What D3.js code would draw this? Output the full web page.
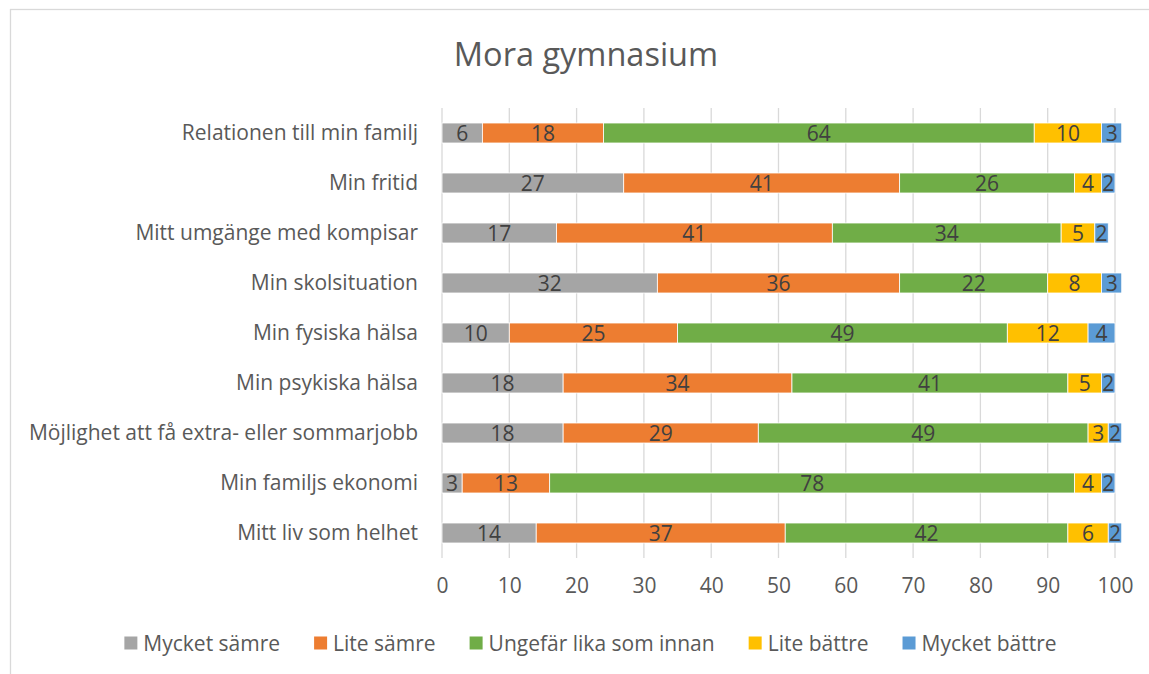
<!DOCTYPE html>
<html><head><meta charset="utf-8">
<script src="https://cdn.jsdelivr.net/npm/d3@7"></script>
<style>body{margin:0;background:#fff}svg{display:block}</style>
</head><body><svg id="c" width="1149" height="674"></svg>
<script>
const categories = ["Relationen till min familj","Min fritid","Mitt umgänge med kompisar","Min skolsituation","Min fysiska hälsa","Min psykiska hälsa","Möjlighet att få extra- eller sommarjobb","Min familjs ekonomi","Mitt liv som helhet"];
const seriesNames = ["Mycket sämre","Lite sämre","Ungefär lika som innan","Lite bättre","Mycket bättre"];
const muckSamre  = [6,27,17,32,10,18,18,3,14];
const liteSamre  = [18,41,41,36,25,34,29,13,37];
const likaInnan  = [64,26,34,22,49,41,49,78,42];
const liteBattre = [10,4,5,8,12,5,3,4,6];
const muckBattre = [3,2,2,3,4,2,2,2,2];
const xTicks = [0,10,20,30,40,50,60,70,80,90,100];
const colors = ["#A5A5A5","#ED7D31","#70AD47","#FFC000","#5B9BD5"];
const title = "Mora gymnasium";

const seriesVals = [muckSamre, liteSamre, likaInnan, liteBattre, muckBattre];
const rows = categories.map((c,i)=>{const o={cat:c}; seriesNames.forEach((s,j)=>o[s]=seriesVals[j][i]); return o;});
const stack = d3.stack().keys(seriesNames)(rows);

const FONT = "'Open Sans', sans-serif";
const FS = 21;
const svg = d3.select("#c");
svg.append("rect").attr("x",10.5).attr("y",9.5).attr("width",1200).attr("height",700)
  .attr("fill","#fff").attr("stroke","#D9D9D9").attr("stroke-width",1.3);

const x = d3.scaleLinear().domain([0,100]).range([442,1115]);
const y = d3.scaleBand().domain(categories).range([108,558]).paddingInner(0.6).paddingOuter(0.3);

svg.append("g").selectAll("line").data(xTicks).join("line")
  .attr("x1",d=>x(d)).attr("x2",d=>x(d)).attr("y1",108).attr("y2",558)
  .attr("stroke","#D9D9D9").attr("stroke-width",1.3);

const xa = svg.append("g").attr("transform","translate(0,558)")
  .call(d3.axisBottom(x).tickValues(xTicks).tickSize(0).tickPadding(20));
xa.select(".domain").remove();
xa.selectAll("text").attr("font-family",FONT).attr("font-size",FS).attr("fill","#595959");

const ya = svg.append("g").attr("transform","translate(442,0)")
  .call(d3.axisLeft(y).tickSize(0).tickPadding(24));
ya.select(".domain").remove();
ya.selectAll("text").attr("font-family",FONT).attr("font-size",FS).attr("fill","#595959");

const g = svg.append("g");
stack.forEach((layer,j)=>{
  g.append("g").selectAll("rect").data(layer).join("rect")
    .attr("x",d=>x(d[0])).attr("width",d=>x(d[1])-x(d[0]))
    .attr("y",d=>y(d.data.cat)).attr("height",y.bandwidth())
    .attr("fill",colors[j]).attr("stroke","#fff").attr("stroke-width",0.8);
});
stack.forEach((layer,j)=>{
  g.append("g").selectAll("text").data(layer).join("text")
    .attr("x",d=>(x(d[0])+x(d[1]))/2).attr("y",d=>y(d.data.cat)+y.bandwidth()/2)
    .attr("text-anchor","middle").attr("dominant-baseline","central")
    .attr("font-family",FONT).attr("font-size",FS).attr("fill","#404040")
    .text(d=>d[1]-d[0]);
});

svg.append("text").attr("x",586).attr("y",53).attr("text-anchor","middle")
  .attr("dominant-baseline","central").attr("font-family",FONT).attr("font-size",32.5)
  .attr("fill","#595959").text(title);

const GAP = 34;
const leg = svg.append("g");
let cx = 0;
seriesNames.forEach((s,j)=>{
  const it = leg.append("g");
  it.append("rect").attr("x",0).attr("y",-6.5).attr("width",13).attr("height",13).attr("fill",colors[j]);
  const t = it.append("text").attr("x",19).attr("y",0).attr("dominant-baseline","central")
    .attr("font-family",FONT).attr("font-size",FS).attr("fill","#595959").text(s);
  const w = 19 + t.node().getComputedTextLength();
  it.attr("transform",`translate(${cx},643)`);
  cx += w + GAP;
});
const total = cx - GAP;
leg.attr("transform",`translate(${590.5 - total/2},0)`);
</script></body></html>
